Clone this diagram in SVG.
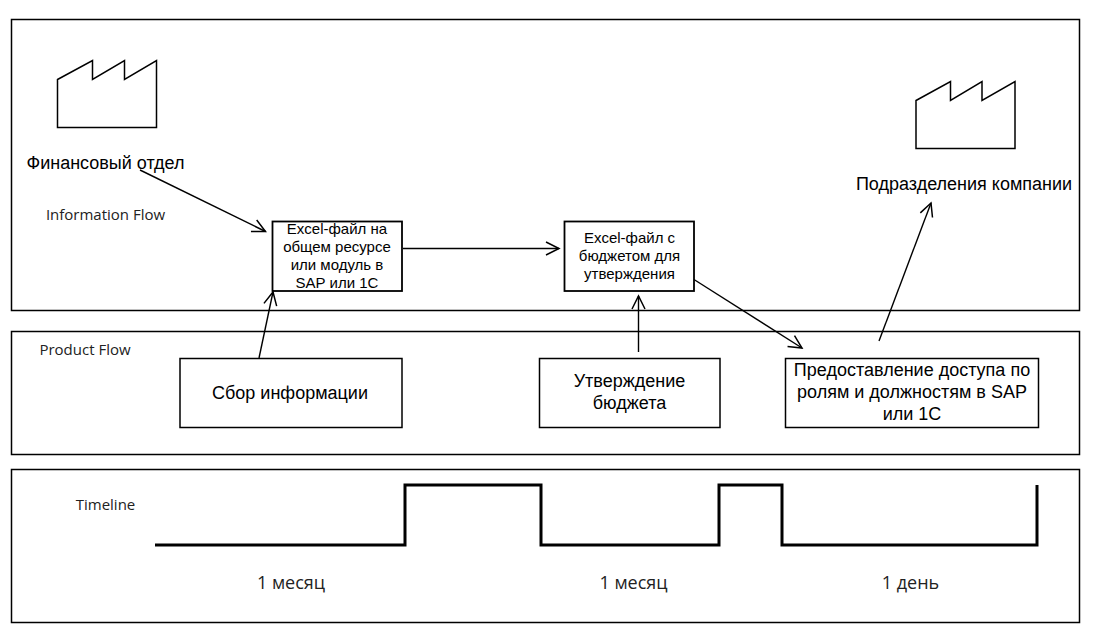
<svg xmlns="http://www.w3.org/2000/svg" width="1097" height="637" viewBox="0 0 1097 637">
<style>
.box{fill:#fff;stroke:#000;stroke-width:1.5}
.node{fill:#fff;stroke:#000;stroke-width:1.8}
.fac{fill:#fff;stroke:#000;stroke-width:1.5}
.a{fill:none;stroke:#000;stroke-width:1.4;marker-end:url(#arr)}
.t{font-family:"Liberation Sans",Arial,sans-serif;fill:#000;text-anchor:middle}
.s{font-size:15px}
.m{font-size:18px}
.o{font-family:"Open Sans","Noto Sans",sans-serif;fill:#222;text-anchor:middle}
.l{font-size:15px}
.b{font-size:18px}
</style>
<defs>
<marker id="arr" markerUnits="userSpaceOnUse" markerWidth="20" markerHeight="20" refX="15" refY="10" orient="auto" overflow="visible">
<path d="M2 3.500L15 10L2 16.500" fill="none" stroke="#000" stroke-width="1.500"/>
</marker>
</defs>
<rect width="1097" height="637" fill="#fff"/>
<g id="panel-information"><rect class="box" x="11.500" y="19.500" width="1068" height="291"/><text class="o l" x="105.500" y="219.500">Information Flow</text></g>
<g id="panel-product"><rect class="box" x="11.500" y="331.500" width="1068" height="123"/><text class="o l" x="85" y="354.500">Product Flow</text></g>
<g id="panel-timeline"><rect class="box" x="11.500" y="469.500" width="1068" height="153"/><text class="o l" x="105.500" y="509.500">Timeline</text></g>
<g id="factory-finance"><path class="fac" d="M57.500 79.500L92.500 60.500V79.500L124.500 60.500V79.500L156.500 60.500V127.500H57.500Z"/><text class="t m" x="105.500" y="168.500">Финансовый отдел</text></g>
<g id="factory-units"><path class="fac" d="M916 100.500L950.500 81.500V100.500L982 81.500V100.500L1015 81.500V148.500H916Z"/><text class="t m" x="964" y="189.500">Подразделения компании</text></g>
<g id="node-excel-shared"><rect class="node" x="272.500" y="221.500" width="129.500" height="69.500"/><text class="t s" x="337" y="234">Excel-файл на</text><text class="t s" x="337" y="252">общем ресурсе</text><text class="t s" x="337" y="270">или модуль в</text><text class="t s" x="337" y="288">SAP или 1С</text></g>
<g id="node-excel-budget"><rect class="node" x="564.500" y="221.500" width="129.500" height="69.500"/><text class="t s" x="629.500" y="243">Excel-файл с</text><text class="t s" x="629.500" y="261">бюджетом для</text><text class="t s" x="629.500" y="279">утверждения</text></g>
<g id="node-collect"><rect class="box" x="180" y="358.500" width="222" height="69"/><text class="t m" x="290" y="398.500">Сбор информации</text></g>
<g id="node-approve"><rect class="box" x="539.500" y="358.500" width="180.500" height="69"/><text class="t m" x="629.500" y="387">Утверждение</text><text class="t m" x="629.500" y="408.500">бюджета</text></g>
<g id="node-access"><rect class="box" x="785.500" y="358.500" width="253" height="69"/><text class="t m" x="912" y="376">Предоставление доступа по</text><text class="t m" x="912" y="398">ролям и должностям в SAP</text><text class="t m" x="912" y="420">или 1С</text></g>
<g id="connectors">
<path class="a" d="M140 170L265.500 231.500"/>
<path class="a" d="M259 358L273 292"/>
<path class="a" d="M403 248.500H559"/>
<path class="a" d="M638.500 352V296"/>
<path class="a" d="M694 279.500L802 348"/>
<path class="a" d="M879 341L931 203"/>
<path d="M155 545H405V485H541V545H719V485H782V545H1037V485" fill="none" stroke="#000" stroke-width="3"/>
</g>
<g id="timeline-labels">
<text class="o b" x="291" y="588.500">1 месяц</text>
<text class="o b" x="633.500" y="588.500">1 месяц</text>
<text class="o b" x="910.500" y="588.500">1 день</text>
</g>
</svg>
